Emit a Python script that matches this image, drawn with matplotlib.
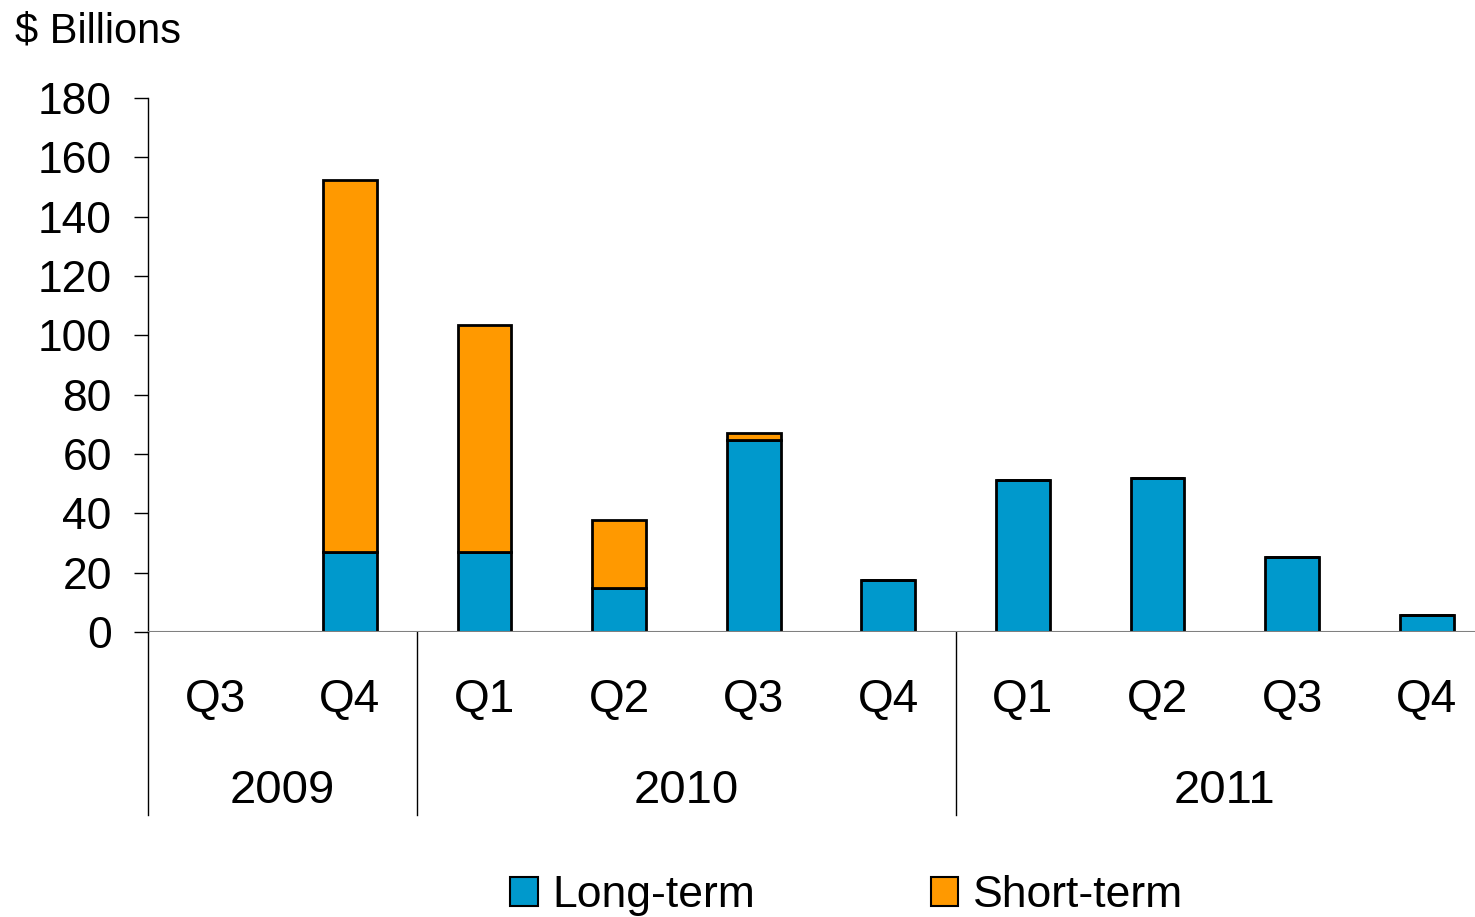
import matplotlib.pyplot as plt
from matplotlib.patches import Patch
import matplotlib.transforms as mtransforms

# Data
quarters = ["Q3", "Q4", "Q1", "Q2", "Q3", "Q4", "Q1", "Q2", "Q3", "Q4"]
years = ["2009", "2010", "2011"]
year_spans = [(0, 1), (2, 5), (6, 9)]
long_term = [0, 27.0, 27.0, 14.8, 64.7, 17.5, 51.2, 51.9, 25.3, 5.7]
short_term = [0, 125.3, 76.5, 22.9, 2.4, 0, 0, 0, 0, 0]

plt.rcParams['font.family'] = ['Liberation Sans', 'DejaVu Sans']

BLUE = "#0099CC"
ORANGE = "#FF9900"

fig = plt.figure(figsize=(14.75, 9.17), dpi=100)
ax = fig.add_axes([0.1003, 0.3108, 0.9126, 0.5823])

x = list(range(len(quarters)))
ax.bar(x, long_term, width=0.4, color=BLUE, edgecolor="black", linewidth=2, zorder=3)
ax.bar(x, short_term, width=0.4, bottom=long_term, color=ORANGE,
       edgecolor="black", linewidth=2, zorder=3)

ax.set_xlim(-0.5, 9.5)
ax.set_ylim(0, 180)
ax.set_yticks(range(0, 181, 20))
ax.tick_params(axis='y', labelsize=32, length=10, width=1, pad=16, direction='out')
ax.set_xticks([])

for side in ("top", "right", "bottom"):
    ax.spines[side].set_visible(False)
ax.spines["left"].set_linewidth(1)
ax.axhline(0, color="#808080", linewidth=1.5, zorder=4)

# Category labels below the axis
trans = mtransforms.blended_transform_factory(ax.transData, ax.transAxes)
for xi, q in zip(x, quarters):
    ax.text(xi, -0.128, q, transform=trans, ha="center", va="center", fontsize=33)
for (a, b), yr in zip(year_spans, years):
    ax.text((a + b) / 2, -0.297, yr, transform=trans, ha="center", va="center", fontsize=34)

# Year separators
for sep in [-0.5, 1.5, 5.5, 9.5]:
    ax.plot([sep, sep], [0, -0.343], transform=trans, color="black",
            linewidth=1, clip_on=False)

fig.text(0.010, 0.966, "$ Billions", fontsize=30, ha="left", va="center")

handles = [Patch(facecolor=BLUE, edgecolor="black", linewidth=1.5, label="Long-term"),
           Patch(facecolor=ORANGE, edgecolor="black", linewidth=1.5, label="Short-term")]
fig.legend(handles=handles, loc="center", bbox_to_anchor=(0.574, 0.023), ncol=2,
           frameon=False, fontsize=32, handlelength=0.61, handleheight=0.61,
           handletextpad=0.34, columnspacing=3.94, borderpad=0)

fig.savefig("out.png", dpi=100)
